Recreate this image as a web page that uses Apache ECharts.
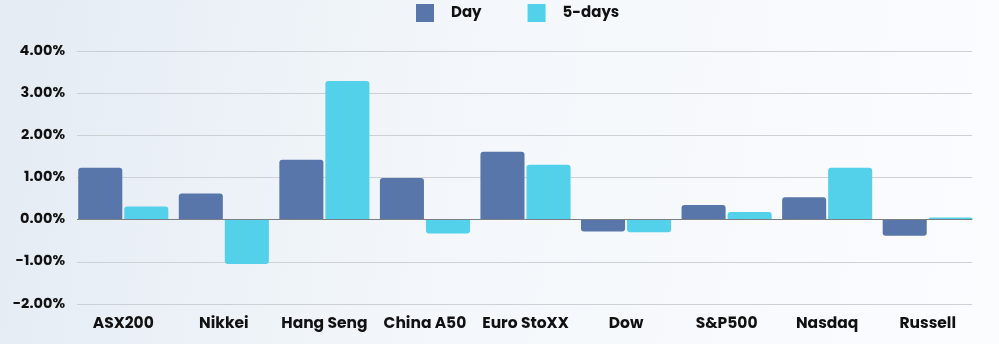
<!DOCTYPE html>
<html><head><meta charset="utf-8">
<script src="https://cdn.jsdelivr.net/npm/echarts@6/dist/echarts.min.js"></script>
<style>html,body{margin:0;padding:0;}#c{width:999px;height:344px;background:linear-gradient(100deg,#e4ebf3 0%,#f3f7fb 45%,#fbfcfe 100%);}</style>
</head><body><div id="c"></div>
<script>
const categories = ['ASX200','Nikkei','Hang Seng','China A50','Euro StoXX','Dow','S&P500','Nasdaq','Russell'];
const dayValues = [1.23, 0.62, 1.42, 0.99, 1.61, -0.28, 0.35, 0.53, -0.38];
const fiveDayValues = [0.31, -1.05, 3.29, -0.33, 1.30, -0.30, 0.18, 1.23, 0.05];
const yTicks = [-2, -1, 0, 1, 2, 3, 4];

const font = 'Poppins, "DejaVu Sans", sans-serif';
const chart = echarts.init(document.getElementById('c'), null, {renderer:'canvas'});
function radius(v){ return v >= 0 ? [3,3,0,0] : [0,0,3,3]; }
const yMin = yTicks[0], yMax = yTicks[yTicks.length-1];
chart.setOption({
  backgroundColor: 'transparent',
  animation: false,
  legend: {
    top: 4, left: 416, padding: 0,
    itemWidth: 18, itemHeight: 18, itemGap: 46,
    icon: 'rect',
    textStyle: {fontFamily: font, fontWeight: 'bold', fontSize: 15, color: '#111', padding: [0,0,0,12]},
    data: ['Day','5-days']
  },
  grid: [
    {left: 77, right: 27, top: 51, bottom: 40},
    {left: 73, right: 21, top: 51, bottom: 40}
  ],
  xAxis: [
    {type: 'value', gridIndex: 0, show: false, min: 0, max: 1},
    {type: 'category', gridIndex: 1, data: categories,
     axisLine: {show: false}, axisTick: {show: false},
     axisLabel: {fontFamily: font, fontWeight: 'bold', fontSize: 15.5, color: '#111', margin: 12, interval: 0}}
  ],
  yAxis: [
    {type: 'value', gridIndex: 0, min: yMin, max: yMax, interval: 1,
     axisLine: {show: false}, axisTick: {show: false},
     axisLabel: {fontFamily: font, fontWeight: 'bold', fontSize: 14.5, color: '#111', margin: 12,
       formatter: v => v.toFixed(2) + '%'},
     splitLine: {lineStyle: {color: '#cdd0d4', width: 1}}},
    {type: 'value', gridIndex: 1, min: yMin, max: yMax, interval: 1, show: false,
     splitLine: {show: false}}
  ],
  series: [
    {name: 'zero', type: 'line', xAxisIndex: 0, yAxisIndex: 0, data: [], silent: true,
     markLine: {silent: true, symbol: 'none', label: {show: false},
       lineStyle: {color: '#7a7f86', type: 'solid', width: 1}, data: [{yAxis: 0}]}},
    {name: 'Day', type: 'bar', xAxisIndex: 1, yAxisIndex: 1, barGap: '4.5%', barCategoryGap: '10.4%',
     itemStyle: {color: '#5876aa'},
     data: dayValues.map(v => ({value: v, itemStyle: {borderRadius: radius(v)}}))},
    {name: '5-days', type: 'bar', xAxisIndex: 1, yAxisIndex: 1,
     itemStyle: {color: '#53d0ea'},
     data: fiveDayValues.map(v => ({value: v, itemStyle: {borderRadius: radius(v)}}))}
  ]
});
</script></body></html>
